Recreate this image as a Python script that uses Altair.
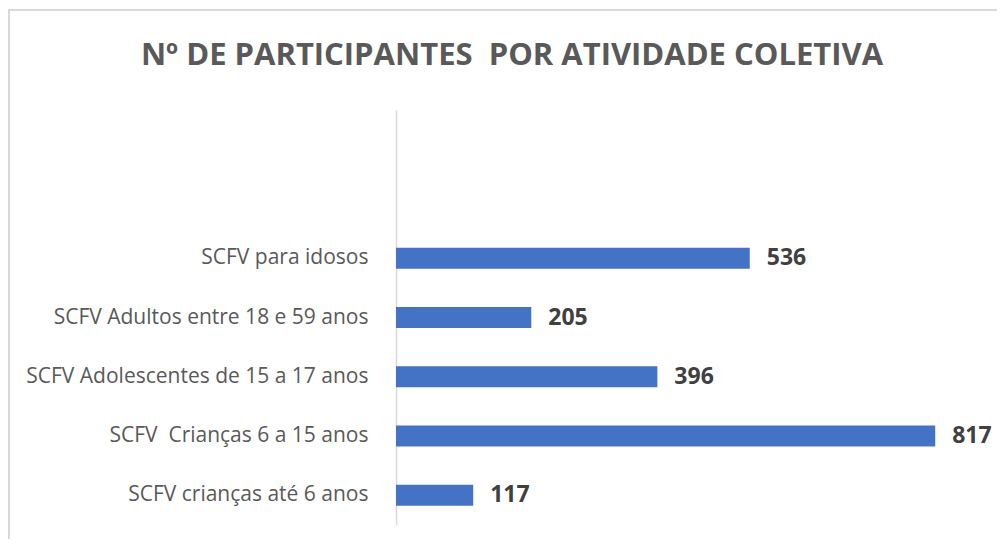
import altair as alt
import pandas as pd

categories = [
    "SCFV para idosos",
    "SCFV Adultos entre 18 e 59 anos",
    "SCFV Adolescentes de 15 a 17 anos",
    "SCFV\u00a0 Crianças 6 a 15 anos",
    "SCFV crianças até 6 anos",
]
values = [536, 205, 396, 817, 117]
blank_slots = ["_vazio1", "_vazio2"]
title_text = "Nº DE PARTICIPANTES\u00a0 POR ATIVIDADE COLETIVA"

df = pd.DataFrame({"cat": categories, "val": values})
domain = blank_slots + categories

W, H = 594, 415
PL, PT, PR, PB = 388, 102, 7, 14

y = alt.Y(
    "cat:N",
    scale=alt.Scale(domain=domain, paddingInner=0.646, paddingOuter=0.323),
    axis=alt.Axis(
        title=None,
        ticks=False,
        grid=False,
        domainColor="#d9d9d9",
        domainWidth=1.5,
        labelFont="Open Sans",
        labelFontSize=21,
        labelColor="#595959",
        labelPadding=28,
        labelLimit=400,
        labelExpr="indexof(datum.label, '_vazio') == 0 ? '' : datum.label",
    ),
)
x = alt.X("val:Q", scale=alt.Scale(domain=[0, 900], nice=False), axis=None)

bars = alt.Chart(df).mark_bar(color="#4472C4").encode(x=x, y=y)
labels = alt.Chart(df).mark_text(
    align="left", baseline="middle", dx=17,
    font="Open Sans", fontSize=23, fontWeight="bold", color="#404040",
).encode(x=x, y=y, text="val:Q")

one = pd.DataFrame({"t": [title_text]})
border_left = alt.Chart(one).mark_rule(color="#d9d9d9", strokeWidth=2, clip=False).encode(
    x=alt.value(-387), y=alt.value(-100), y2=alt.value(H + PB)
)
border_top = alt.Chart(one).mark_rule(color="#d9d9d9", strokeWidth=2, clip=False).encode(
    x=alt.value(-388), x2=alt.value(W + PR), y=alt.value(-100)
)
title = alt.Chart(one).mark_text(
    align="center", baseline="alphabetic",
    font="Open Sans", fontSize=31, fontWeight="bold", color="#595959",
).encode(x=alt.value(116), y=alt.value(-45), text="t:N")

chart = (
    alt.layer(border_left, border_top, bars, labels, title)
    .properties(
        width=W,
        height=H,
        autosize=alt.AutoSizeParams(type="none"),
        padding={"left": PL, "top": PT, "right": PR, "bottom": PB},
    )
    .configure_view(stroke=None)
)

chart.save("out.html", embed_options={"renderer": "svg", "actions": False})
